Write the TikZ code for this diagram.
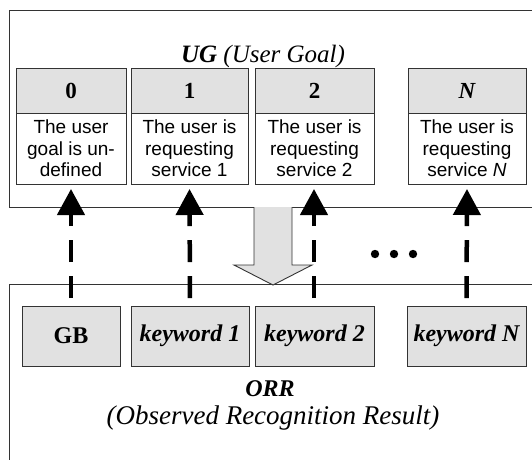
\documentclass[tikz,border=0pt]{standalone}
\usepackage{fontspec}
\setmainfont{Liberation Serif}
\setsansfont{Liberation Sans}
\usetikzlibrary{arrows.meta}
\definecolor{boxgray}{HTML}{E1E1E1}
\definecolor{edge}{HTML}{333333}

\begin{document}
\begin{tikzpicture}[x=1pt,y=-1pt,
  frame/.style={draw=edge, line width=0.9pt},
  hdr/.style={frame, fill=boxgray, inner sep=0pt, outer sep=0pt, minimum height=45pt,
    font=\fontsize{23}{25}\selectfont\bfseries},
  body/.style={frame, fill=white, inner sep=0pt, outer sep=0pt, minimum height=71pt,
    align=center, font=\sffamily\fontsize{19}{21.5}\selectfont},
  kw/.style={frame, fill=boxgray, inner sep=0pt, outer sep=0pt, minimum height=60pt,
    font=\fontsize{24}{26}\selectfont\bfseries\itshape},
  link/.style={line width=4.5pt, dash pattern=on 22pt off 14pt,
    -{Triangle[width=27pt,length=26pt]}, shorten <=8pt, shorten >=5pt},
]
\useasboundingbox (0,0) rectangle (532,459);
\clip (0,0) rectangle (532,459);

% outer frames of the two layers
\draw[frame] (9,10) rectangle (545,207);
\draw[frame] (9,284) rectangle (545,470);

% layer titles
\node[anchor=base, font=\fontsize{25}{27}\selectfont] (ugtitle) at (263,62)
  {\textbf{\textit{UG}} \textit{(User Goal)}};
\node[anchor=base, font=\fontsize{24}{26}\selectfont\bfseries\itshape] (orrtitle) at (270,396) {ORR};
\node[anchor=base, font=\fontsize{27}{29}\selectfont\itshape] (orrsub) at (273,424)
  {(Observed Recognition Result)};

% user goal states: header and description
\node[hdr, minimum width=110pt] (h0) at (71,90.5) {0};
\node[body, minimum width=110pt] (b0) at (71,148.5) {The user\\goal is un-\\defined};
\node[hdr, minimum width=117pt] (h1) at (189.5,90.5) {1};
\node[body, minimum width=117pt] (b1) at (189.5,148.5) {The user is\\requesting\\service 1};
\node[hdr, minimum width=119pt] (h2) at (314.5,90.5) {2};
\node[body, minimum width=119pt] (b2) at (314.5,148.5) {The user is\\requesting\\service 2};
\node[hdr, minimum width=118pt] (hN) at (467,90.5) {\itshape N};
\node[body, minimum width=118pt] (bN) at (467,148.5) {The user is\\requesting\\service \textit{N}};

% observed recognition results
\node[kw, minimum width=98pt, font=\fontsize{24}{26}\selectfont\bfseries] (gb) at (71,336) {GB};
\node[kw, minimum width=118pt] (k1) at (190,336) {keyword 1};
\node[kw, minimum width=119pt] (k2) at (314.5,336) {keyword 2};
\node[kw, minimum width=119pt] (kN) at (466.5,336) {keyword N};

% broad hollow arrow from UG down to ORR
\filldraw[frame, fill=boxgray, line join=miter]
  (254,207) -- (254,265) -- (234,265) -- (273,285) -- (312,265) -- (292,265) -- (292,207);

% ellipsis between state 2 and state N
\foreach \x in {375,394,413} \fill (\x,254) circle (4.2pt);

% dashed mappings from observations to goals
\draw[link] (gb.north) -- (b0.south);
\draw[link] (k1.north) -- (b1.south);
\draw[link] ([xshift=-0.5pt]k2.north) -- ([xshift=-0.5pt]b2.south);
\draw[link] (kN.north) -- (bN.south);
\end{tikzpicture}
\end{document}
